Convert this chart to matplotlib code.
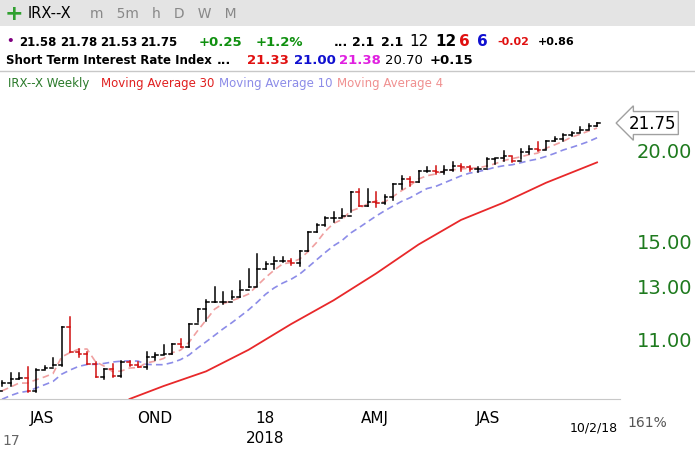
import numpy as np
import matplotlib.pyplot as plt

# weekly bars, Jun 2017 .. Oct 2018
highs = [9.60, 9.84, 9.84, 10.03, 9.97, 10.06, 10.34, 11.41, 11.78, 10.62,
         10.52, 10.20, 9.97, 10.13, 10.23, 10.23, 10.20, 10.52, 10.49, 10.75,
         10.79, 10.96, 11.49, 12.05, 12.42, 12.94, 12.72, 12.76, 13.17, 13.68,
         14.35, 13.99, 14.21, 14.21, 14.12, 14.49, 15.39, 15.79, 16.13, 16.40,
         16.56, 17.47, 17.64, 17.64, 17.47, 17.31, 17.92, 18.38, 18.33, 18.68,
         18.91, 18.96, 18.96, 19.22, 19.10, 18.96, 18.91, 19.46, 19.40, 19.89,
         19.52, 20.02, 20.21, 20.47, 20.54, 20.80, 21.00, 21.13, 21.48, 21.69, 21.78]
lows = [9.45, 9.44, 9.66, 9.27, 9.27, 9.97, 10.06, 10.06, 10.52, 10.35,
        10.13, 9.72, 9.66, 9.72, 9.72, 10.06, 10.03, 9.97, 10.26, 10.45,
        10.45, 10.70, 10.70, 11.57, 11.60, 12.34, 12.25, 12.46, 12.52, 12.94,
        12.98, 13.68, 13.68, 13.99, 13.86, 13.81, 14.49, 15.39, 15.70, 15.89,
        16.13, 16.40, 16.72, 16.72, 16.66, 16.82, 17.03, 17.64, 17.81, 18.04,
        18.62, 18.51, 18.51, 18.68, 18.68, 18.68, 18.62, 18.91, 19.10, 19.28,
        19.22, 19.40, 19.71, 19.89, 20.02, 20.54, 20.54, 20.86, 21.13, 21.35, 21.53]
closes = [9.53, 9.65, 9.68, 9.30, 9.93, 10.00, 10.10, 11.41, 10.52, 10.45,
          10.13, 9.72, 9.97, 9.75, 10.20, 10.10, 10.03, 10.35, 10.42, 10.45,
          10.79, 10.70, 11.49, 12.05, 12.34, 12.34, 12.34, 12.52, 12.80, 12.94,
          13.68, 13.90, 14.04, 14.04, 13.95, 14.49, 15.39, 15.74, 16.08, 16.08,
          16.18, 17.47, 16.72, 16.93, 16.87, 17.20, 17.92, 18.22, 18.04, 18.68,
          18.68, 18.62, 18.74, 18.96, 18.91, 18.80, 18.80, 19.40, 19.46, 19.58,
          19.28, 19.83, 20.02, 19.95, 20.54, 20.67, 20.93, 21.07, 21.27, 21.55, 21.75]
# closes of the weeks before the visible window (for the moving averages)
prior_closes = [8.6, 8.8, 8.9, 9.0, 9.0, 9.1, 9.2, 9.2, 9.3]
# 30-week average (bar number, value)
ma30_bars = [16, 20, 25, 30, 35, 40, 45, 50, 55, 60, 65, 71]
ma30_vals = [9.07, 9.45, 9.9, 10.6, 11.5, 12.4, 13.5, 14.8, 16.0, 16.9, 18.0, 19.2]

quarter_labels = ['JAS', 'OND', '18', 'AMJ', 'JAS']
quarter_pos = [5.7, 19, 31.9, 44.9, 58.2]
ytick_vals = [11, 13, 15, 20]

n = len(closes)
idx = np.arange(1, n + 1)
allc = np.array(prior_closes + closes)
opens = [prior_closes[-1]] + closes[:-1]
opens[-1] = 21.58


def sma(a, w):
    out = np.convolve(a, np.ones(w) / w, mode='valid')
    return out[-n:]


ma4 = sma(allc, 4)
ma10 = sma(allc, 10)

W, H = 695, 452
fig = plt.figure(figsize=(6.95, 4.52), dpi=100)
ax = fig.add_axes([0, (H - 400) / H, 620 / W, (400 - 72) / H])
ax.set_yscale('log')
ax.set_xlim(0.76, 73.7)
ax.set_ylim(9.07, 25.65)

ax.plot(ma30_bars, ma30_vals, color='#e8282a', lw=1.3)
ax.plot(idx, ma10, color='#8c8ce8', lw=1.2, ls=(0, (4, 2.5)))
ax.plot(idx, ma4, color='#f0a0a0', lw=1.2, ls=(0, (4, 2.5)))

for i in range(n):
    c = '#d01010' if closes[i] < opens[i] else 'black'
    x = idx[i]
    ax.plot([x, x], [lows[i], highs[i]], color=c, lw=1.1)
    ax.plot([x - 0.33, x], [opens[i], opens[i]], color=c, lw=1.1)
    ax.plot([x, x + 0.33], [closes[i], closes[i]], color=c, lw=1.1)

ax.yaxis.tick_right()
ax.set_yticks(ytick_vals)
ax.set_yticklabels([f'{v:.2f}' for v in ytick_vals], color='#1e7a1e', fontsize=14)
ax.yaxis.set_minor_locator(plt.NullLocator())
ax.tick_params(axis='y', length=0, pad=12)
ax.set_xticks(quarter_pos)
ax.set_xticklabels(quarter_labels, fontsize=11)
ax.tick_params(axis='x', length=0, pad=8)
for s in ['top', 'right', 'left']:
    ax.spines[s].set_visible(False)
ax.spines['bottom'].set_color('#c8c8c8')

ax.annotate('21.75', xy=(1.0, closes[-1]), xycoords=('axes fraction', 'data'),
            xytext=(6, 0), textcoords='offset points', fontsize=12, va='center',
            bbox=dict(boxstyle='larrow,pad=0.15', fc='white', ec='#a0a0a0'))

# header rows
fig.add_artist(plt.Rectangle((0, 1 - 27 / H), 1, 27 / H, transform=fig.transFigure,
                             fc='#e4e4e4', ec='none'))
fig.text(5 / W, 1 - 14 / H, '+', fontsize=16, va='center', color='#30a030', weight='bold')
fig.text(28 / W, 1 - 14 / H, 'IRX--X', fontsize=10.5, va='center')
fig.text(90 / W, 1 - 14 / H, 'm   5m   h   D   W   M', fontsize=10, va='center', color='#888888')

row2 = [(6, '•', 'purple', 8.5, 'bold'), (19, '21.58', 'black', 8.5, 'bold'),
        (60, '21.78', 'black', 8.5, 'bold'), (100, '21.53', 'black', 8.5, 'bold'),
        (140, '21.75', 'black', 8.5, 'bold'), (199, '+0.25', '#109010', 9.5, 'bold'),
        (256, '+1.2%', '#109010', 9.5, 'bold'), (334, '...', 'black', 9, 'bold'),
        (352, '2.1', 'black', 9, 'bold'), (381, '2.1', 'black', 9, 'bold'),
        (409, '12', 'black', 11, 'normal'), (435, '12', 'black', 11, 'bold'),
        (459, '6', '#e01010', 11, 'bold'), (477, '6', '#1010d0', 11, 'bold'),
        (497, '-0.02', '#e01010', 8, 'bold'), (538, '+0.86', 'black', 8, 'bold')]
for x, t, c, fs, w in row2:
    fig.text(x / W, 1 - 42 / H, t, fontsize=fs, va='center', color=c, weight=w)

fig.text(6 / W, 1 - 61 / H, 'Short Term Interest Rate Index', fontsize=8.5,
         va='center', weight='bold')
fig.text(217 / W, 1 - 61 / H, '...', fontsize=9, va='center', weight='bold')
for x, t, c, w in [(247, '21.33', '#e01010', 'bold'), (294, '21.00', '#1010d0', 'bold'),
                   (339, '21.38', '#e020e0', 'bold'), (385, '20.70', 'black', 'normal'),
                   (430, '+0.15', 'black', 'bold')]:
    fig.text(x / W, 1 - 61 / H, t, fontsize=9.5, va='center', color=c, weight=w)
fig.add_artist(plt.Line2D([0, 1], [1 - 72 / H] * 2, color='#c8c8c8', lw=1))

x = 8
for t, c in [('IRX--X Weekly', '#2a7a2a'), ('Moving Average 30', '#e02020'),
             ('Moving Average 10', '#8c8ce8'), ('Moving Average 4', '#f09090')]:
    fig.text(x / W, 1 - 84 / H, t, fontsize=8.5, va='center', color=c)
    x += 14 + 6.1 * len(t)

fig.text(265 / W, 1 - 439 / H, '2018', fontsize=11, ha='center', va='center')
fig.text(2 / W, 1 - 441 / H, '17', fontsize=10, va='center', color='#666666')
fig.text(570 / W, 1 - 428 / H, '10/2/18', fontsize=9, va='center')
fig.text(627 / W, 1 - 423 / H, '161%', fontsize=10, va='center', color='#555555')

fig.savefig('out.png', dpi=100)
